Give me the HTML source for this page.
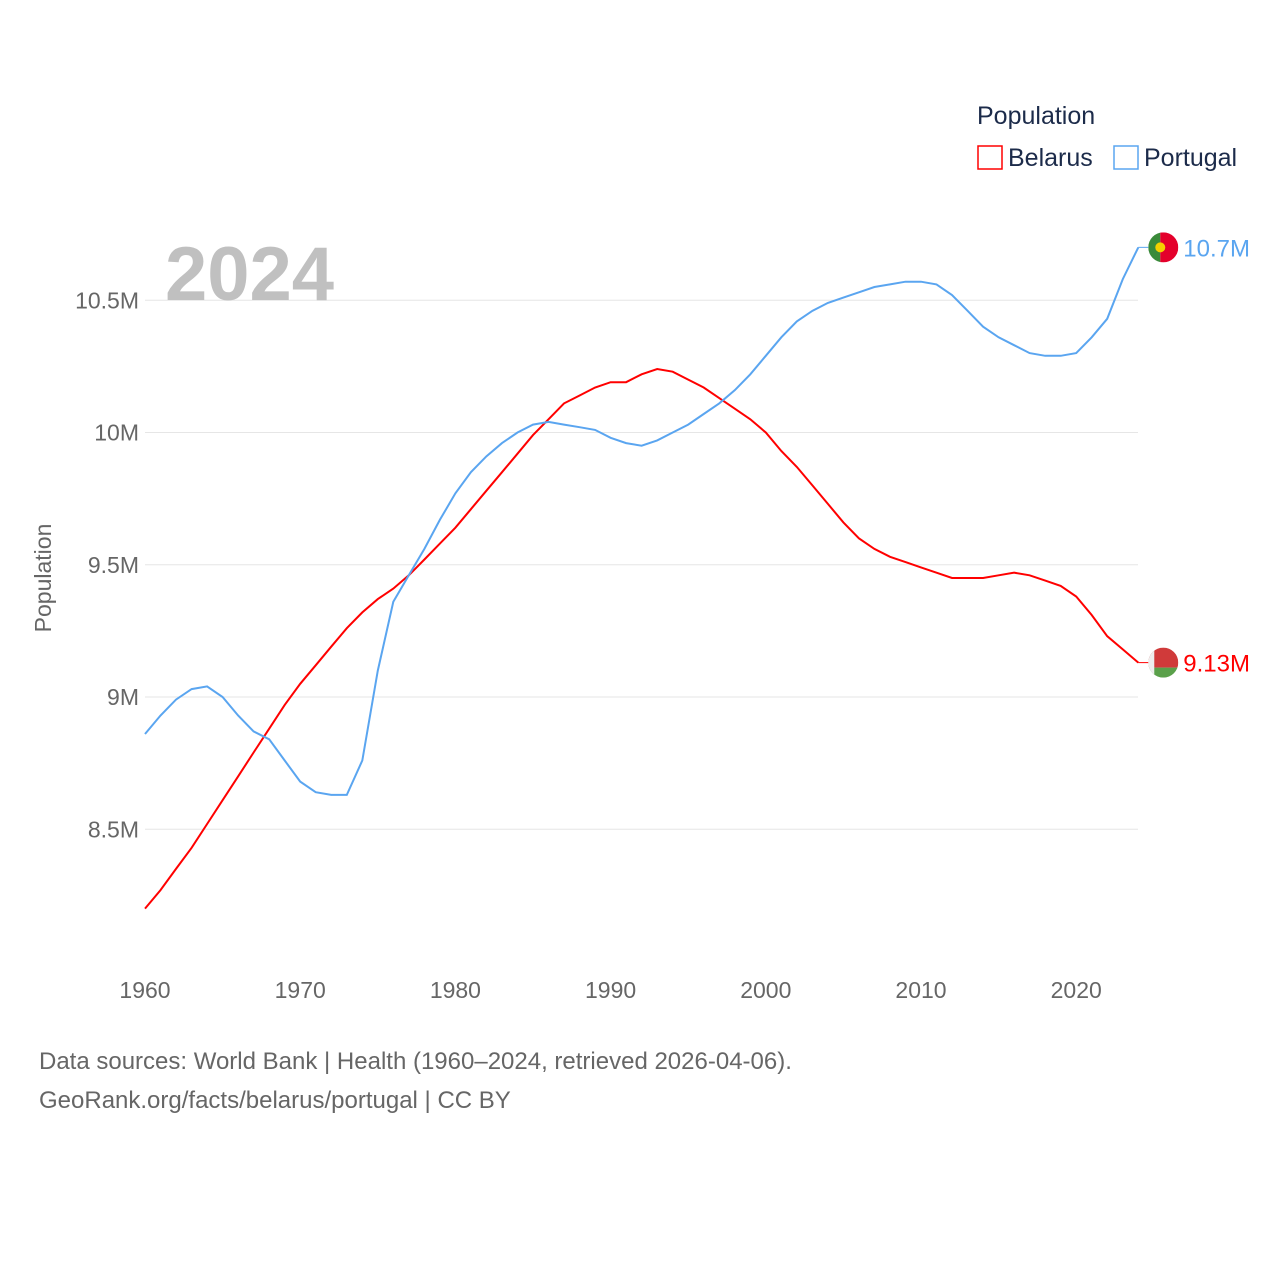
<!DOCTYPE html>
<html><head><meta charset="utf-8"><style>
body{margin:0;background:#fff;font-family:"Liberation Sans",sans-serif;}
svg text{font-family:"Liberation Sans",sans-serif;}
</style></head><body>
<svg id="chart" width="1280" height="1280">
<g id="grid"></g>
<text x="165" y="300" font-size="76" font-weight="bold" fill="#c0c0c0">2024</text>
<text transform="translate(51,578) rotate(-90)" text-anchor="middle" font-size="23" fill="#666">Population</text>
<g id="series"></g>
<text x="977" y="124" font-size="25" fill="#1c2b4a">Population</text>
<g><rect x="978" y="146" width="24" height="23" fill="none" stroke="#ff0000" stroke-width="1.5"/><text x="1008" y="166" font-size="25" fill="#1c2b4a">Belarus</text></g>
<g><rect x="1114" y="146" width="24" height="23" fill="none" stroke="#5aa5f0" stroke-width="1.5"/><text x="1144" y="166" font-size="25" fill="#1c2b4a">Portugal</text></g>
<text x="39" y="1069" font-size="24" fill="#666">Data sources: World Bank | Health (1960–2024, retrieved 2026-04-06).</text>
<text x="39" y="1108" font-size="24" fill="#666">GeoRank.org/facts/belarus/portugal | CC BY</text>
</svg>
<script>
const years=[];for(let y=1960;y<=2024;y++)years.push(y);
const belarus=[8.20,8.27,8.35,8.43,8.52,8.61,8.70,8.79,8.88,8.97,9.05,9.12,9.19,9.26,9.32,9.37,9.41,9.46,9.52,9.58,9.64,9.71,9.78,9.85,9.92,9.99,10.05,10.11,10.14,10.17,10.19,10.19,10.22,10.24,10.23,10.20,10.17,10.13,10.09,10.05,10.00,9.93,9.87,9.80,9.73,9.66,9.60,9.56,9.53,9.51,9.49,9.47,9.45,9.45,9.45,9.46,9.47,9.46,9.44,9.42,9.38,9.31,9.23,9.18,9.13];
const portugal=[8.86,8.93,8.99,9.03,9.04,9.00,8.93,8.87,8.84,8.76,8.68,8.64,8.63,8.63,8.76,9.10,9.36,9.46,9.56,9.67,9.77,9.85,9.91,9.96,10.00,10.03,10.04,10.03,10.02,10.01,9.98,9.96,9.95,9.97,10.00,10.03,10.07,10.11,10.16,10.22,10.29,10.36,10.42,10.46,10.49,10.51,10.53,10.55,10.56,10.57,10.57,10.56,10.52,10.46,10.40,10.36,10.33,10.30,10.29,10.29,10.30,10.36,10.43,10.58,10.70];
const yTicks=[8.5,9,9.5,10,10.5];
const yTickLabels=["8.5M","9M","9.5M","10M","10.5M"];
const xTicks=[1960,1970,1980,1990,2000,2010,2020];
const X=y=>145+(y-1960)*15.52;
const Y=v=>697-(v-9)*264.5;
const NS="http://www.w3.org/2000/svg";
const grid=document.getElementById('grid'),ser=document.getElementById('series');
function mk(tag,at,parent,txt){const e=document.createElementNS(NS,tag);for(const k in at)e.setAttribute(k,at[k]);if(txt!=null)e.textContent=txt;parent.appendChild(e);return e;}
yTicks.forEach((v,i)=>{
 const l=mk('line',{x1:145,x2:1138,y1:Y(v),y2:Y(v),stroke:'#e6e6e6','stroke-width':1},grid);
 
 
 const t=mk('text',{x:139,y:Y(v)+8,'text-anchor':'end','font-size':23,fill:'#666'},grid,yTickLabels[i]);
 
 
});
xTicks.forEach(v=>{
 const t=mk('text',{x:X(v),y:998,'text-anchor':'middle','font-size':23,fill:'#666'},grid,String(v));
 
 
});
function line(vals,color,name){
 const d=vals.map((v,i)=>(i?'L':'M')+X(years[i]).toFixed(1)+' '+Y(v).toFixed(1)).join(' ');
 const p=mk('path',{d:d,fill:'none',stroke:color,'stroke-width':2},ser);
 
 
}
line(belarus,'#ff0000','belarus-line');
line(portugal,'#5aa5f0','portugal-line');
function endLabel(vals,color,name,flag){
 const v=vals[vals.length-1],x=X(years[years.length-1]),y=Y(v);
 mk('line',{x1:x,x2:x+10,y1:y,y2:y,stroke:color,'stroke-width':1},ser);
 const g=mk('g',{},ser);
 
 
 const cx=x+25;
 mk('clipPath',{id:'c'+name},g);
 document.getElementById('c'+name).appendChild(document.createElementNS(NS,'circle'));
 const c=document.getElementById('c'+name).firstChild;c.setAttribute('cx',cx);c.setAttribute('cy',y);c.setAttribute('r',15);
 if(flag==='pt'){
  mk('rect',{x:cx-15,y:y-15,width:12,height:30,fill:'#3a8a3a','clip-path':'url(#c'+name+')'},g);
  mk('rect',{x:cx-3,y:y-15,width:18,height:30,fill:'#e4002b','clip-path':'url(#c'+name+')'},g);
  mk('circle',{cx:cx-3,cy:y,r:5,fill:'#f5d000'},g);
 }else{
  mk('rect',{x:cx-15,y:y-15,width:30,height:20,fill:'#d03a3a','clip-path':'url(#c'+name+')'},g);
  mk('rect',{x:cx-15,y:y+5,width:30,height:10,fill:'#5aa04a','clip-path':'url(#c'+name+')'},g);
  mk('rect',{x:cx-15,y:y-15,width:6,height:30,fill:'#eee','clip-path':'url(#c'+name+')'},g);
 }
 const t=mk('text',{x:cx+20,y:y+9,'font-size':24,fill:color},ser,(Math.round(v*100)/100)+'M');
 t.textContent=(v>=10?v.toFixed(1):v.toFixed(2))+'M';
 
 
}
endLabel(portugal,'#5aa5f0','portugal','pt');
endLabel(belarus,'#ff0000','belarus','by');
</script>
</body></html>
